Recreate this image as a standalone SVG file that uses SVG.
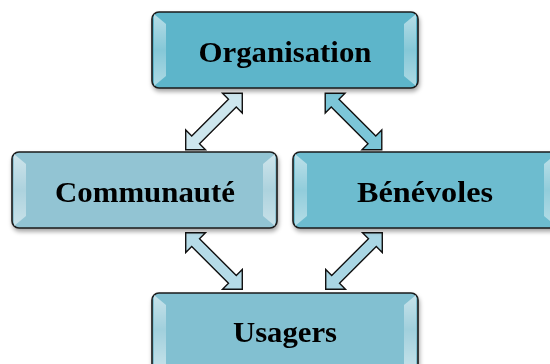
<svg xmlns="http://www.w3.org/2000/svg" width="550" height="364" viewBox="0 0 550 364">
<defs>
<filter id="sh" x="-10%" y="-10%" width="120%" height="130%">
<feDropShadow dx="1" dy="3" stdDeviation="2" flood-color="#000" flood-opacity="0.35"/>
</filter>
<linearGradient id="hl" x1="0" y1="0" x2="0" y2="1">
<stop offset="0" stop-color="#fff" stop-opacity="0.55"/>
<stop offset="0.5" stop-color="#fff" stop-opacity="0.25"/>
<stop offset="1" stop-color="#fff" stop-opacity="0.5"/>
</linearGradient>
<path id="arr" d="M -40,0 L -26,-14 L -26,-5.5 L 26,-5.5 L 26,-14 L 40,0 L 26,14 L 26,5.5 L -26,5.5 L -26,14 Z"/>
</defs>
<style>
.box{stroke:#1a1a1a;stroke-width:1.6}
.bev{fill:url(#hl)}
.lbl{font-family:"Liberation Serif","Times New Roman",serif;font-weight:bold;font-size:30px;fill:#000;text-anchor:middle}
.ar{stroke:#111;stroke-width:1.4;stroke-linejoin:miter}
</style>
<g id="connectors">
<use href="#arr" class="ar" fill="#cde6ee" transform="translate(214,121.5) rotate(-45)"/>
<use href="#arr" class="ar" fill="#7cc6d8" transform="translate(353.5,121.5) rotate(45)"/>
<use href="#arr" class="ar" fill="#b5dbe7" transform="translate(214,261) rotate(45)"/>
<use href="#arr" class="ar" fill="#a9d6e4" transform="translate(354,261) rotate(-45)"/>
</g>
<g id="organisation" filter="url(#sh)">
<rect class="box" x="152" y="12" width="266" height="76" rx="7" fill="#5db5ca"/>
<polygon class="bev" points="154,14 166,24 166,76 154,86"/>
<polygon class="bev" points="416,14 404,24 404,76 416,86"/>
<text class="lbl" x="285" y="62" textLength="173" lengthAdjust="spacingAndGlyphs">Organisation</text>
</g>
<g id="communaute" filter="url(#sh)">
<rect class="box" x="12" y="152" width="265" height="76" rx="7" fill="#92c4d3"/>
<polygon class="bev" points="14,154 26,164 26,216 14,226"/>
<polygon class="bev" points="275,154 263,164 263,216 275,226"/>
<text class="lbl" x="145" y="202" textLength="180" lengthAdjust="spacingAndGlyphs">Communauté</text>
</g>
<g id="benevoles" filter="url(#sh)">
<rect class="box" x="293" y="152" width="265" height="76" rx="7" fill="#6dbccf"/>
<polygon class="bev" points="295,154 307,164 307,216 295,226"/>
<polygon class="bev" points="556,154 544,164 544,216 556,226"/>
<text class="lbl" x="425" y="202" textLength="136" lengthAdjust="spacingAndGlyphs">Bénévoles</text>
</g>
<g id="usagers" filter="url(#sh)">
<rect class="box" x="152" y="293" width="266" height="80" rx="7" fill="#82c0d1"/>
<polygon class="bev" points="154,295 166,305 166,364 154,364"/>
<polygon class="bev" points="416,295 404,305 404,364 416,364"/>
<text class="lbl" x="285" y="342" textLength="104" lengthAdjust="spacingAndGlyphs">Usagers</text>
</g>
</svg>
